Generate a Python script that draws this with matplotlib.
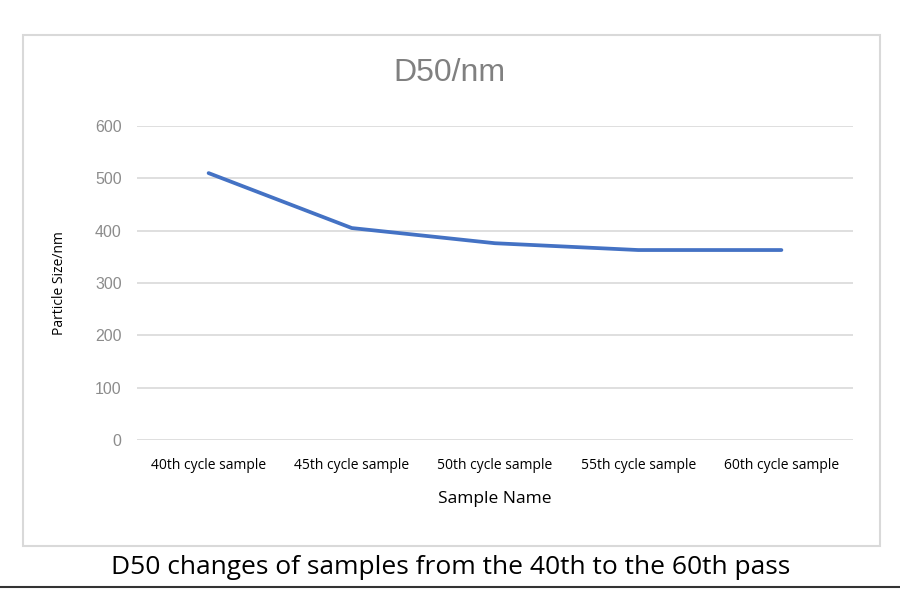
import matplotlib.pyplot as plt
from matplotlib.patches import Rectangle
from matplotlib.lines import Line2D

samples = ['40th cycle sample', '45th cycle sample', '50th cycle sample',
           '55th cycle sample', '60th cycle sample']
d50 = [510, 405, 376, 363, 363]
yticks = [0, 100, 200, 300, 400, 500, 600]

fig = plt.figure(figsize=(9, 6), dpi=100)
ax = fig.add_axes([137 / 900, 1 - 440 / 600, 716 / 900, 314 / 600])

x = list(range(len(samples)))
ax.plot(x, d50, color='#4472C4', lw=2.7, solid_capstyle='round')
ax.set_xlim(-0.5, len(samples) - 0.5)
ax.set_ylim(0, 600)
ax.set_yticks(yticks)
ax.set_xticks(x)
ax.set_xticklabels(samples, fontsize=10, family='Open Sans')
ax.set_yticklabels([str(v) for v in yticks], fontsize=11.5, color='#8c8c8c',
                   family='Liberation Sans')
ax.tick_params(length=0)
ax.tick_params(axis='y', pad=11)
ax.tick_params(axis='x', pad=13)
ax.grid(axis='y', color='#d9d9d9', lw=1.2)
ax.set_axisbelow(True)
for s in ax.spines.values():
    s.set_visible(False)

ax.set_xlabel('Sample Name', fontsize=12.5, family='Open Sans', labelpad=13)
ax.set_ylabel('Particle Size/nm', fontsize=10, family='Open Sans', labelpad=20)

fig.text(449 / 900, 1 - 73 / 600, 'D50/nm', ha='center', va='center',
         fontsize=23, color='#808080', family='Liberation Sans')

# chart frame and caption
fig.patches.append(Rectangle((23 / 900, 1 - 546 / 600), 857 / 900, 511 / 600,
                             transform=fig.transFigure, fill=False,
                             edgecolor='#d9d9d9', lw=1.5))
fig.text(451 / 900, 1 - 567 / 600,
         'D50 changes of samples from the 40th to the 60th pass',
         ha='center', va='center', fontsize=19, family='Open Sans')
fig.lines.append(Line2D([0, 1], [1 - 587 / 600] * 2, transform=fig.transFigure,
                        color='#333333', lw=1.5))

fig.savefig('out.png', dpi=100)
